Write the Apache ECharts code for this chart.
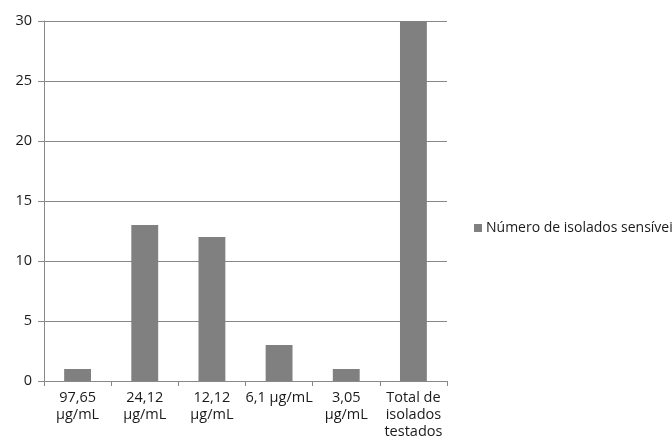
<!DOCTYPE html>
<html>
<head>
<meta charset="utf-8">
<script src="https://cdn.jsdelivr.net/npm/echarts@6/dist/echarts.min.js"></script>
<style>html,body{margin:0;padding:0;background:#fff}#c{width:672px;height:445px}</style>
</head>
<body>
<div id="c"></div>
<script>
var categories = ['97,65\nµg/mL', '24,12\nµg/mL', '12,12\nµg/mL', '6,1 µg/mL', '3,05\nµg/mL', 'Total de\nisolados\ntestados'];
var seriesName = 'Número de isolados sensíveis';
var values = [1, 13, 12, 3, 1, 30];

var chart = echarts.init(document.getElementById('c'), null, {renderer: 'canvas'});
var font = '"Open Sans", "DejaVu Sans", sans-serif';
chart.setOption({
  animation: false,
  backgroundColor: '#ffffff',
  textStyle: {fontFamily: font},
  grid: {left: 44, right: 225, top: 21, bottom: 64, containLabel: false},
  legend: {
    data: [seriesName],
    left: 474, top: 221, padding: 0,
    icon: 'rect', itemWidth: 8, itemHeight: 8, itemGap: 4,
    textStyle: {fontFamily: font, fontSize: 14, color: '#1a1a1a', width: 150, overflow: 'none', padding: [0, 0, 0, -1]}
  },
  xAxis: {
    type: 'category',
    data: categories,
    axisLine: {lineStyle: {color: '#888888', width: 1}},
    axisTick: {show: true, length: 5, alignWithLabel: false, lineStyle: {color: '#888888'}},
    axisLabel: {fontFamily: font, fontSize: 14.5, color: '#1a1a1a', lineHeight: 17, margin: 8, interval: 0}
  },
  yAxis: {
    type: 'value',
    min: 0, max: 30, interval: 5,
    axisLine: {show: true, lineStyle: {color: '#888888', width: 1}},
    axisTick: {show: true, length: 6, lineStyle: {color: '#888888'}},
    splitLine: {show: true, lineStyle: {color: '#888888', width: 1}},
    axisLabel: {fontFamily: font, fontSize: 14.5, color: '#1a1a1a', margin: 12}
  },
  series: [{
    name: seriesName,
    type: 'bar',
    data: values,
    barCategoryGap: '60%',
    itemStyle: {color: '#808080'}
  }]
});
</script>
</body>
</html>
